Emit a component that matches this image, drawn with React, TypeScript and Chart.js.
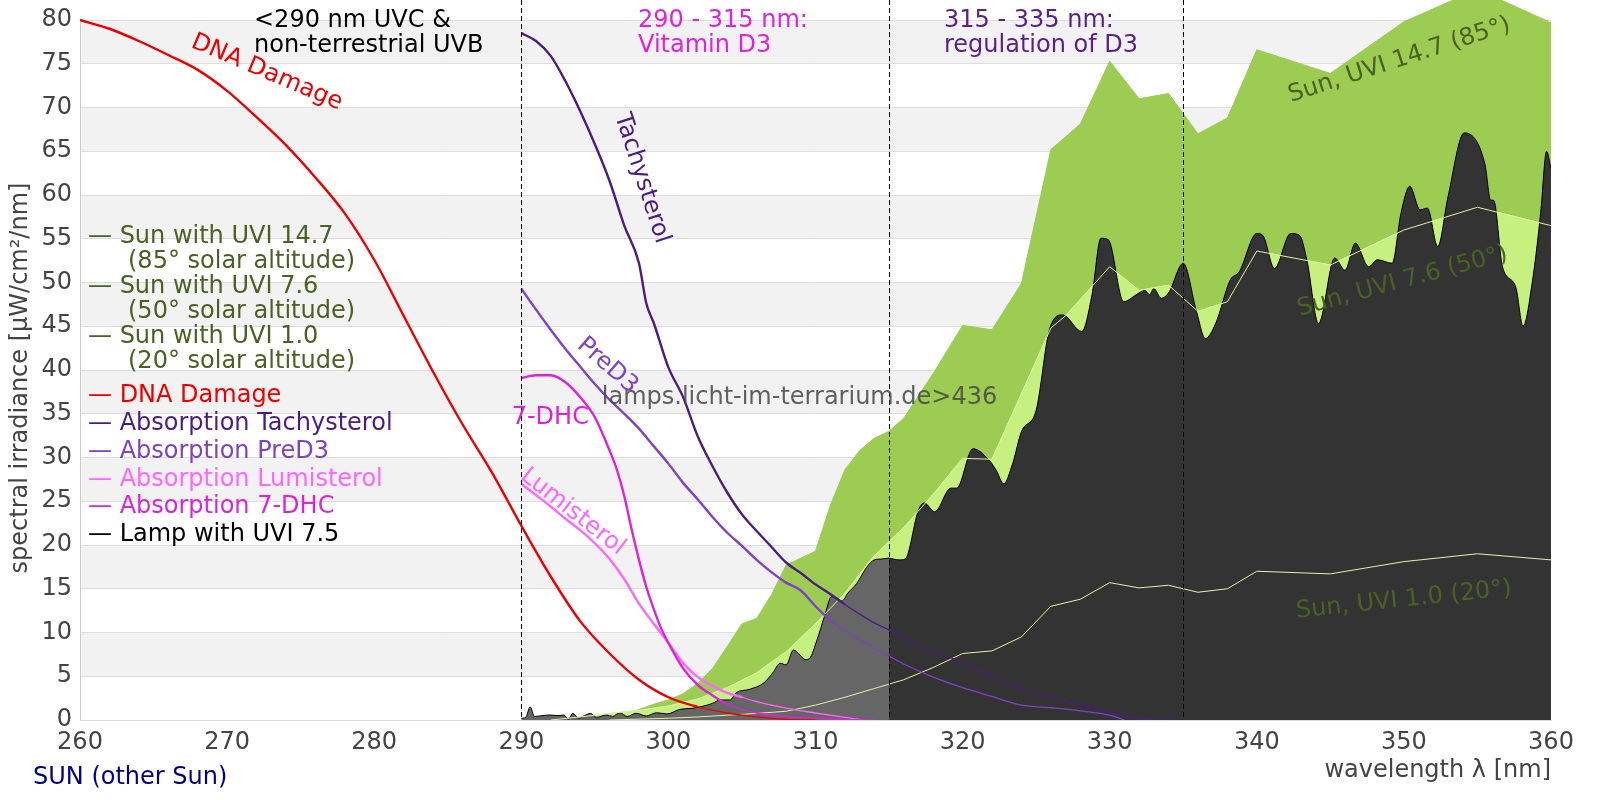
import React, { useEffect, useRef } from "react";
import { Chart, registerables } from "chart.js";

Chart.register(...registerables);

// ---------------- data ----------------
const xTickValues = [260, 270, 280, 290, 300, 310, 320, 330, 340, 350, 360];
const yTickValues = [0, 5, 10, 15, 20, 25, 30, 35, 40, 45, 50, 55, 60, 65, 70, 75, 80];
const regionBoundsNm = [290, 315, 335];

const dnaNm = [260, 262, 264, 266, 268, 270, 272, 274, 276, 278, 280, 282, 284, 286, 288, 290, 292, 294, 296, 298, 300, 302, 304, 306, 308, 310];
const dnaVal = [80, 79.0, 77.6, 76.0, 74.3, 71.9, 68.9, 65.7, 62.0, 57.9, 52.6, 46.2, 39.8, 33.8, 28.3, 22.2, 16.4, 11.3, 7.6, 4.6, 2.6, 1.5, 0.8, 0.35, 0.08, 0];

const tachNm = [290, 291, 292, 293, 294, 295, 296, 297, 298, 298.5, 299, 300, 301, 302, 303, 304, 305, 306, 307, 308, 309, 310, 311, 312, 313, 314, 315, 316, 318, 320, 322, 324, 326, 328, 330, 331, 332.7, 334.5];
const tachVal = [78.5, 77.6, 75.9, 73.0, 69.6, 65.8, 61.6, 56.5, 52.2, 47.6, 45.4, 40.3, 36.9, 32.4, 29.0, 26.0, 23.5, 21.6, 19.8, 18.0, 16.8, 15.5, 14.4, 13.2, 12.1, 11.1, 10.3, 9.4, 7.8, 6.6, 5.0, 3.6, 2.55, 1.7, 0.85, 0.5, 0.08, 0];

const preD3Nm = [290, 291, 292, 293, 294, 295, 296, 297, 298, 299, 300, 301, 302, 303, 304, 305, 306, 307, 308, 309, 310, 311, 312, 313, 314, 315, 316, 318, 320, 322, 324, 326, 328, 330, 331];
const preD3Val = [49.3, 46.9, 44.6, 42.4, 40.4, 38.4, 36.6, 35.0, 33.3, 31.3, 29.3, 27.1, 25.2, 23.2, 21.4, 19.9, 18.3, 16.9, 15.7, 14.8, 13.0, 11.4, 10.2, 9.2, 8.2, 7.3, 6.4, 4.9, 3.7, 2.7, 1.7, 1.4, 1.05, 0.55, 0];

const lumiNm = [290, 291, 292, 293, 294, 295, 296, 297, 298, 299, 300, 301, 302, 303, 304, 305, 306, 308, 310, 312, 313.2];
const lumiVal = [27.0, 25.7, 24.4, 23.0, 21.7, 20.2, 18.4, 16.1, 13.3, 11.0, 8.8, 6.5, 4.9, 3.9, 3.1, 2.6, 2.1, 1.35, 0.8, 0.3, 0];

const dhcNm = [290, 291, 292, 293, 294, 295, 296, 296.5, 297, 297.5, 298, 298.5, 299, 299.5, 300, 301, 302, 303, 304, 305, 306, 308, 310, 312, 314];
const dhcVal = [39.1, 39.4, 39.4, 38.6, 36.9, 34.6, 30.8, 28.6, 25.6, 21.8, 18.3, 15.2, 12.7, 10.5, 8.8, 5.9, 4.0, 2.8, 1.8, 1.2, 0.8, 0.4, 0.2, 0.08, 0];

const sun147Nm = [296, 297, 298, 299, 300, 301, 302, 303, 304, 305, 306, 307, 308, 309, 310, 311, 312, 313, 314, 315, 316, 318, 320, 322, 324, 326, 328, 330, 332, 334, 336, 338, 340, 345, 350, 355, 360];
const sun147Val = [0, 0.6, 1.2, 1.8, 2.3, 3.0, 4.2, 5.9, 8.4, 11.0, 11.6, 14.3, 17.7, 18.5, 19.3, 24.5, 28.6, 30.8, 32.2, 33.0, 34.5, 39.6, 45.1, 44.6, 49.9, 65.2, 68.1, 75.3, 71.0, 71.6, 67.0, 68.8, 76.6, 73.9, 79.8, 83.5, 79.7];

const sun76Nm = [292, 294, 296, 298, 300, 302, 304, 306, 308, 310, 312, 314, 316, 318, 320, 322, 326, 327, 330, 332, 334, 336, 338, 340, 345, 350, 355, 360];
const sun76Val = [0, 0.35, 0.75, 1.1, 1.6, 2.4, 3.7, 5.4, 7.8, 11.0, 14.5, 18.8, 22.0, 25.8, 29.9, 29.8, 44.8, 46.2, 51.8, 49.1, 49.7, 46.7, 47.8, 53.6, 52.0, 56.0, 58.6, 56.5];

const sun10Nm = [296, 298, 300, 302, 304, 306, 308, 310, 312, 314, 316, 318, 320, 322, 324, 326, 328, 330, 332, 334, 336, 338, 340, 345, 350, 355, 360];
const sun10Val = [0, 0.1, 0.2, 0.35, 0.55, 0.75, 1.0, 1.7, 2.6, 3.6, 4.6, 6.0, 7.6, 7.9, 9.5, 13.0, 13.8, 15.7, 15.1, 15.4, 14.6, 15.0, 17.0, 16.7, 18.1, 19.0, 18.3];

const lampNm = [290.0, 290.3, 290.6, 290.9, 291.4, 291.95, 292.5, 292.9, 293.2, 293.5,
  293.9, 294.3, 294.7, 295.1, 295.8, 296.2, 296.7, 297.2, 297.8, 298.5,
  299.2, 299.9, 300.8, 301.6, 302.4, 303.0, 303.5, 304.2, 304.6, 305.5,
  306.5, 307.1, 307.6, 308.0, 308.5, 308.95, 309.3, 309.6, 310.1, 310.6,
  311.1, 311.5, 311.8, 312.2, 312.8, 313.5, 314.0, 314.5, 315.0, 315.7,
  316.1, 317.0, 317.4, 318.1, 319.2, 319.6, 320.7, 321.8, 322.3, 322.8,
  323.4, 324.0, 325.0, 325.9, 326.8, 328.1, 328.8, 329.4, 329.9, 330.95,
  331.8, 332.4, 332.7, 333.0, 333.5, 334.0, 335.0, 335.9, 336.5, 337.2,
  338.2, 338.8, 340.0, 340.4, 341.2, 342.3, 342.9, 343.4, 344.2, 345.3,
  346.0, 346.7, 347.6, 348.2, 349.2, 349.8, 350.4, 351.1, 351.6, 352.3,
  353.0, 354.1, 355.5, 355.9, 356.1, 356.7, 357.6, 358.1, 358.75, 359.3,
  359.7, 360.0];
const lampVal = [0.2, 0.3, 1.5, 0.4, 0.5, 0.57, 0.5, 0.57, 0.08, 0.76,
  0.2, 0.5, 0.76, 0.3, 0.57, 0.4, 0.83, 0.4, 0.76, 0.46,
  0.83, 0.69, 1.22, 1.33, 1.6, 1.9, 2.29, 2.29, 3.12, 3.5,
  4.26, 5.4, 6.48, 6.3, 8.0, 7.43, 6.9, 7.05, 9.14, 11.8,
  14.1, 13.9, 13.6, 14.5, 15.6, 17.5, 18.3, 18.4, 18.5, 18.3,
  18.4, 24.0, 24.8, 23.8, 26.5, 26.5, 31.0, 29.7, 28.5, 27.0,
  29.3, 32.95, 35.4, 44.6, 46.3, 44.4, 48.6, 55.05, 54.9, 47.8,
  48.6, 49.1, 48.6, 49.3, 48.2, 48.8, 52.2, 46.7, 43.6, 45.3,
  50.3, 51.2, 55.6, 55.4, 51.6, 55.6, 55.4, 52.6, 45.3, 52.8,
  51.4, 54.5, 51.8, 52.6, 52.2, 57.9, 61.0, 58.3, 58.5, 54.1,
  59.8, 67.1, 63.6, 59.4, 59.4, 51.8, 49.5, 45.0, 50.3, 58.0,
  65.0, 63.0];

// ---------------- styles ----------------
const FONT = "DejaVu Sans";
const C_DNA = "#ee0000";
const C_TACH = "#4c1c80";
const C_PRE = "#8040c8";
const C_LUMI = "#ff66ff";
const C_DHC = "#dd22dd";
const C_SUN_TXT = "#4b6124";
const C_SUN147 = "#9ccc52";
const C_SUN76 = "#c6f080";
const C_SUNLINE = "#dff3a6";
const C_TICK = "#444444";
// the top tick (80) sits 20px below the canvas top; the plot area reaches the canvas top
const Y_TOP = 80 * 720 / 700;

const pts = (xs: number[], ys: number[]) => xs.map((x, i) => ({ x, y: ys[i] }));
const lampPts = pts(lampNm, lampVal);
const splitNm = regionBoundsNm[1];
const lampLeft = lampPts.filter((p) => p.x <= splitNm);
const lampRight = lampPts.filter((p) => p.x >= splitNm);

const widthBy = (limit: number) => (ctx: any) => (ctx.p0.parsed.x < limit ? 2.4 : 1.3);

const curveLabels = [
  { text: "DNA Damage", nm: 272.7, val: 74.0, angle: 23, color: C_DNA },
  { text: "Tachysterol", nm: 298.2, val: 61.9, angle: 72, color: C_TACH },
  { text: "PreD3", nm: 295.85, val: 40.5, angle: 41, color: C_PRE },
  { text: "7-DHC", nm: 291.97, val: 34.5, angle: 0, color: C_DHC },
  { text: "Lumisterol", nm: 293.5, val: 23.8, angle: 38, color: C_LUMI },
  { text: "Sun, UVI 14.7 (85°)", nm: 349.7, val: 75.4, angle: -18, color: C_SUN_TXT },
  { text: "Sun, UVI 7.6 (50°)", nm: 349.9, val: 50.1, angle: -15, color: C_SUN_TXT },
  { text: "Sun, UVI 1.0 (20°)", nm: 350.0, val: 13.7, angle: -6, color: C_SUN_TXT },
];

const legendLines = [
  { text: "— Sun with UVI 14.7", x: 88, y: 243, color: C_SUN_TXT },
  { text: "(85° solar altitude)", x: 128, y: 268, color: C_SUN_TXT },
  { text: "— Sun with UVI 7.6", x: 88, y: 293, color: C_SUN_TXT },
  { text: "(50° solar altitude)", x: 128, y: 318, color: C_SUN_TXT },
  { text: "— Sun with UVI 1.0", x: 88, y: 343, color: C_SUN_TXT },
  { text: "(20° solar altitude)", x: 128, y: 368, color: C_SUN_TXT },
  { text: "— DNA Damage", x: 88, y: 402, color: C_DNA },
  { text: "— Absorption Tachysterol", x: 88, y: 430, color: C_TACH },
  { text: "— Absorption PreD3", x: 88, y: 458, color: C_PRE },
  { text: "— Absorption Lumisterol", x: 88, y: 486, color: C_LUMI },
  { text: "— Absorption 7-DHC", x: 88, y: 513, color: C_DHC },
  { text: "— Lamp with UVI 7.5", x: 88, y: 541, color: "#000000" },
];

const topNotes = [
  { lines: ["<290 nm UVC &", "non-terrestrial UVB"], x: 254, color: "#000000" },
  { lines: ["290 - 315 nm:", "Vitamin D3"], x: 638, color: "#e022e0" },
  { lines: ["315 - 335 nm:", "regulation of D3"], x: 944, color: "#5c1e8c" },
];

const decorPlugin = {
  id: "decor",
  beforeDraw(chart: any) {
    const { ctx, chartArea: a, scales } = chart;
    const y = scales.y;
    ctx.save();
    ctx.fillStyle = "#ffffff";
    ctx.fillRect(0, 0, chart.width, chart.height);
    ctx.fillStyle = "#f2f2f2";
    for (let i = 0; i < yTickValues.length - 1; i++) {
      if (i % 2 === 1) {
        const t = y.getPixelForValue(yTickValues[i + 1]);
        const b = y.getPixelForValue(yTickValues[i]);
        ctx.fillRect(a.left, t, a.right - a.left, b - t);
      }
    }
    ctx.restore();
  },
  beforeDatasetsDraw(chart: any) {
    const { ctx, chartArea: a, scales } = chart;
    const y = scales.y;
    ctx.save();
    ctx.strokeStyle = "#cccccc";
    ctx.lineWidth = 1;
    ctx.beginPath();
    ctx.moveTo(a.left + 0.5, y.getPixelForValue(yTickValues[yTickValues.length - 1]));
    ctx.lineTo(a.left + 0.5, a.bottom);
    ctx.stroke();
    ctx.restore();
  },
  afterDatasetsDraw(chart: any) {
    const { ctx, chartArea: a, scales } = chart;
    const xs = scales.x;
    const ys = scales.y;
    ctx.save();
    ctx.strokeStyle = "#000";
    ctx.lineWidth = 1;
    ctx.setLineDash([5, 3]);
    for (const nm of regionBoundsNm) {
      const px = Math.round(xs.getPixelForValue(nm)) + 0.5;
      ctx.beginPath();
      ctx.moveTo(px, 0);
      ctx.lineTo(px, a.bottom);
      ctx.stroke();
    }
    ctx.setLineDash([]);
    ctx.font = `24px "${FONT}"`;
    for (const l of curveLabels) {
      ctx.save();
      ctx.translate(xs.getPixelForValue(l.nm), ys.getPixelForValue(l.val));
      ctx.rotate((l.angle * Math.PI) / 180);
      ctx.fillStyle = l.color;
      ctx.textAlign = "center";
      ctx.textBaseline = "middle";
      ctx.fillText(l.text, 0, 0);
      ctx.restore();
    }
    ctx.fillStyle = "rgba(70,70,70,0.85)";
    ctx.textAlign = "left";
    ctx.textBaseline = "middle";
    ctx.fillText("lamps.licht-im-terrarium.de>436", xs.getPixelForValue(295.47), ys.getPixelForValue(36.8));
    ctx.textBaseline = "alphabetic";
    for (const n of topNotes) {
      ctx.fillStyle = n.color;
      n.lines.forEach((s, i) => ctx.fillText(s, n.x, 27 + i * 25));
    }
    for (const l of legendLines) {
      ctx.fillStyle = l.color;
      ctx.fillText(l.text, l.x, l.y);
    }
    ctx.fillStyle = C_TICK;
    ctx.textAlign = "right";
    ctx.fillText("wavelength λ [nm]", a.right, 777);
    ctx.fillStyle = "#000088";
    ctx.textAlign = "left";
    ctx.fillText("SUN (other Sun)", 33, 784);
    ctx.save();
    ctx.translate(21, 378);
    ctx.rotate(-Math.PI / 2);
    ctx.fillStyle = C_TICK;
    ctx.textAlign = "center";
    ctx.textBaseline = "middle";
    ctx.fillText("spectral irradiance [µW/cm²/nm]", 0, 0);
    ctx.restore();
    ctx.restore();
  },
};

export default function App() {
  const ref = useRef<HTMLCanvasElement>(null);
  useEffect(() => {
    const canvas = ref.current;
    if (!canvas) return;
    Chart.defaults.font.family = FONT;
    const smooth = { cubicInterpolationMode: "monotone" };
    const chart = new Chart(canvas, {
      type: "line",
      data: {
        datasets: [
          { label: "Sun UVI 14.7", data: pts(sun147Nm, sun147Val), fill: "origin", backgroundColor: C_SUN147, borderColor: C_SUN147, borderWidth: 1, order: 20 },
          { label: "Sun UVI 7.6 area", data: pts(sun76Nm, sun76Val), fill: "origin", backgroundColor: C_SUN76, borderColor: C_SUN76, borderWidth: 1, order: 19 },
          { label: "Lamp <315", data: lampLeft, fill: "origin", backgroundColor: "#666666", borderColor: "#000000", borderWidth: 1, order: 18, ...smooth },
          { label: "Lamp >315", data: lampRight, fill: "origin", backgroundColor: "#333333", borderColor: "#000000", borderWidth: 1, order: 17, ...smooth },
          { label: "Sun UVI 7.6", data: pts(sun76Nm, sun76Val), fill: false, borderColor: C_SUNLINE, borderWidth: 1, order: 16 },
          { label: "Sun UVI 1.0", data: pts(sun10Nm, sun10Val), fill: false, borderColor: C_SUNLINE, borderWidth: 1, order: 15 },
          { label: "Tachysterol", data: pts(tachNm, tachVal), fill: false, borderColor: C_TACH, borderWidth: 2.4, segment: { borderWidth: widthBy(311.2) }, order: 14, ...smooth },
          { label: "PreD3", data: pts(preD3Nm, preD3Val), fill: false, borderColor: C_PRE, borderWidth: 2.4, segment: { borderWidth: widthBy(310.6) }, order: 13, ...smooth },
          { label: "Lumisterol", data: pts(lumiNm, lumiVal), fill: false, borderColor: C_LUMI, borderWidth: 2.4, segment: { borderWidth: widthBy(304.4) }, order: 12, ...smooth },
          { label: "7-DHC", data: pts(dhcNm, dhcVal), fill: false, borderColor: C_DHC, borderWidth: 2.8, segment: { borderWidth: widthBy(303.5) }, order: 11, ...smooth },
          { label: "DNA Damage", data: pts(dnaNm, dnaVal), fill: false, borderColor: C_DNA, borderWidth: 2.4, segment: { borderWidth: widthBy(302) }, order: 10, ...smooth },
        ] as any,
      },
      options: {
        responsive: false,
        animation: false,
        devicePixelRatio: 1,
        layout: { padding: { top: 0, right: 49, left: 0, bottom: 0 } },
        elements: { point: { radius: 0 }, line: { tension: 0 } },
        plugins: { legend: { display: false }, tooltip: { enabled: false }, title: { display: false } },
        scales: {
          x: {
            type: "linear",
            min: 260,
            max: 360,
            afterBuildTicks: (s: any) => { s.ticks = xTickValues.map((value) => ({ value })); },
            afterFit: (s: any) => { s.height = 80; },
            grid: { display: false, drawTicks: false },
            border: { display: true, color: "#dddddd" },
            ticks: { font: { family: FONT, size: 24 }, color: C_TICK, padding: 8, maxRotation: 0, autoSkip: false },
          },
          y: {
            type: "linear",
            min: 0,
            max: Y_TOP,
            afterBuildTicks: (s: any) => { s.ticks = yTickValues.map((value) => ({ value })); },
            afterFit: (s: any) => { s.width = 80; s.paddingTop = 0; s.paddingBottom = 0; },
            grid: { color: "#dddddd", drawTicks: false },
            border: { display: false },
            ticks: { font: { family: FONT, size: 24 }, color: C_TICK, padding: 8, autoSkip: false },
          },
        },
      } as any,
      plugins: [decorPlugin],
    });
    return () => chart.destroy();
  }, []);
  return (
    <div style={{ position: "fixed", left: 0, top: 0, width: 1600, height: 800, background: "#fff" }}>
      <canvas ref={ref} width={1600} height={800} style={{ display: "block", width: 1600, height: 800 }} />
    </div>
  );
}
